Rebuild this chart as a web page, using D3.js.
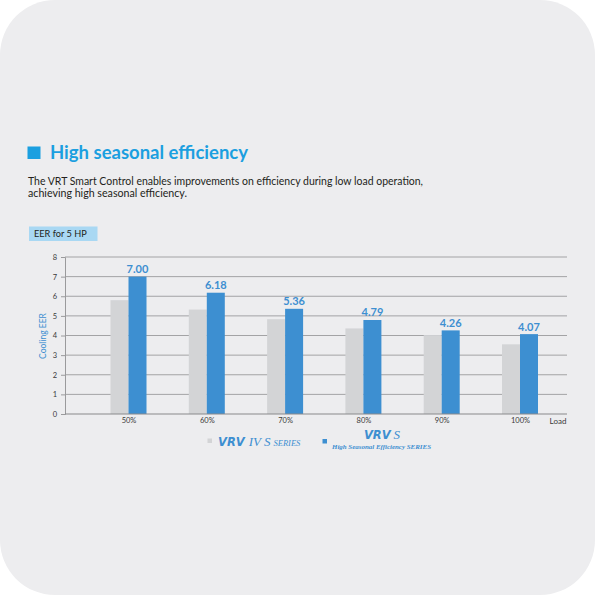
<!DOCTYPE html>
<html>
<head>
<meta charset="utf-8">
<script src="https://cdn.jsdelivr.net/npm/d3@7/dist/d3.min.js"></script>
<style>
  html, body { margin: 0; padding: 0; background: #ffffff; }
  svg { display: block; }
</style>
</head>
<body>
<svg id="chart" width="595" height="595"></svg>
<script>
// ---- data ----
const categories = ["50%", "60%", "70%", "80%", "90%", "100%"];
const seriesOld = [5.80, 5.32, 4.83, 4.36, 4.02, 3.55];   // VRV IV S SERIES
const seriesNew = [7.00, 6.18, 5.36, 4.79, 4.26, 4.07];   // VRV S High Seasonal Efficiency SERIES
const valueLabels = ["7.00", "6.18", "5.36", "4.79", "4.26", "4.07"];
const yTicks = [0, 1, 2, 3, 4, 5, 6, 7, 8];

const titleText = "High seasonal efficiency";
const subLines = [
  "The VRT Smart Control enables improvements on efficiency during low load operation,",
  "achieving high seasonal efficiency."
];
const boxLabel = "EER for 5 HP";
const yTitle = "Cooling EER";
const xTitle = "Load";

// ---- styles ----
const BG = "#ededef";
const GRAY = "#d3d4d6";
const BLUE = "#3d8fd1";
const TITLE_BLUE = "#1b9fe0";
const BOX_BLUE = "#a9d8f3";
const FONT = "Lato, 'Open Sans', sans-serif";

const svg = d3.select("#chart");

svg.append("rect")
  .attr("x", 0).attr("y", 0).attr("width", 595).attr("height", 595)
  .attr("rx", 55).attr("ry", 55).attr("fill", BG);

// title
svg.append("rect").attr("x", 27.5).attr("y", 146.5).attr("width", 13).attr("height", 12.5).attr("fill", TITLE_BLUE);
svg.append("text").attr("x", 50).attr("y", 159.3)
  .attr("font-family", FONT).attr("font-weight", 700).attr("font-size", 19.5)
  .attr("fill", TITLE_BLUE)
  .attr("textLength", 198).attr("lengthAdjust", "spacingAndGlyphs")
  .text(titleText);

// subtitle
const subLengths = [395, 159];
subLines.forEach((t, i) => {
  svg.append("text").attr("x", 28).attr("y", 185 + i * 12)
    .attr("font-family", FONT).attr("font-size", 10.5).attr("fill", "#231f20")
    .attr("textLength", subLengths[i]).attr("lengthAdjust", "spacingAndGlyphs")
    .text(t);
});

// EER box
svg.append("rect").attr("x", 29).attr("y", 226.5).attr("width", 68.5).attr("height", 14.5).attr("fill", BOX_BLUE);
svg.append("text").attr("x", 34).attr("y", 237.3)
  .attr("font-family", FONT).attr("font-size", 9.2).attr("fill", "#231f20")
  .text(boxLabel);

// ---- scales ----
const mLeft = 65, mRight = 567, mTop = 257, mBottom = 414;
const y = d3.scaleLinear().domain([0, 8]).range([mBottom, mTop]);
const x = d3.scalePoint().domain(categories).range([128.5, 520]);
const barW = 18;

// gridlines
const g = svg.append("g");
g.selectAll("line.grid").data(yTicks.filter(d => d > 0)).enter().append("line")
  .attr("x1", mLeft).attr("x2", mRight)
  .attr("y1", d => y(d)).attr("y2", d => y(d))
  .attr("stroke", "#a3a3a5").attr("stroke-width", 1);

// y axis
const yAxis = svg.append("g").attr("transform", `translate(${mLeft},0)`)
  .call(d3.axisLeft(y).tickValues(yTicks).tickSize(4).tickPadding(4).tickFormat(d3.format("d")));
yAxis.select(".domain").attr("stroke", "#9a9a9c");
yAxis.selectAll(".tick line").attr("stroke", "#9a9a9c");
yAxis.selectAll(".tick text").attr("font-family", FONT).attr("font-size", 7.5).attr("fill", "#3a3a3a");

// bars
svg.selectAll("rect.old").data(seriesOld).enter().append("rect")
  .attr("x", (d, i) => x(categories[i]) - barW)
  .attr("y", d => y(d)).attr("width", barW).attr("height", d => y(0) - y(d))
  .attr("fill", GRAY);
svg.selectAll("rect.new").data(seriesNew).enter().append("rect")
  .attr("x", (d, i) => x(categories[i]))
  .attr("y", d => y(d)).attr("width", barW).attr("height", d => y(0) - y(d))
  .attr("fill", BLUE);

// value labels
svg.selectAll("text.val").data(seriesNew).enter().append("text")
  .attr("x", (d, i) => x(categories[i]) + barW / 2)
  .attr("y", d => y(d) - 3.5)
  .attr("text-anchor", "middle")
  .attr("font-family", FONT).attr("font-weight", 700).attr("font-size", 11)
  .attr("fill", BLUE)
  .text((d, i) => valueLabels[i]);

// x axis
const xAxis = svg.append("g").attr("transform", `translate(0,${mBottom})`)
  .call(d3.axisBottom(x).tickSize(0).tickPadding(4));
xAxis.select(".domain").attr("d", `M${mLeft},0H${mRight}`).attr("stroke", "#8a8a8c").attr("stroke-width", 1.2);
xAxis.selectAll(".tick text").attr("font-family", FONT).attr("font-size", 7.5).attr("fill", "#3a3a3a");

svg.append("text").attr("x", 558).attr("y", 423.5).attr("text-anchor", "middle")
  .attr("font-family", FONT).attr("font-size", 8).attr("fill", "#3a3a3a").text(xTitle);

// y title
svg.append("text").attr("transform", "translate(45.5,336) rotate(-90)")
  .attr("text-anchor", "middle")
  .attr("font-family", FONT).attr("font-size", 8.5).attr("fill", BLUE)
  .text(yTitle);

// legend
const lg = svg.append("g");
lg.append("rect").attr("x", 207.5).attr("y", 438.5).attr("width", 4.5).attr("height", 4.5).attr("fill", GRAY);
const t1 = lg.append("text").attr("x", 218).attr("y", 445.5).attr("fill", BLUE);
t1.append("tspan").attr("font-family", "'DejaVu Sans', sans-serif").attr("font-weight", 700).attr("font-style", "italic").attr("font-size", 11.5).text("VRV");
t1.append("tspan").attr("font-family", "'Liberation Serif', serif").attr("font-style", "italic").attr("font-size", 13).attr("dx", 4).text("IV S");
t1.append("tspan").attr("font-family", "'Liberation Serif', serif").attr("font-style", "italic").attr("font-size", 8.5).attr("dx", 3).text("SERIES");

lg.append("rect").attr("x", 322.5).attr("y", 439).attr("width", 4.5).attr("height", 4.5).attr("fill", BLUE);
const t2 = lg.append("text").attr("x", 382).attr("y", 438.5).attr("fill", BLUE).attr("text-anchor", "middle");
t2.append("tspan").attr("font-family", "'DejaVu Sans', sans-serif").attr("font-weight", 700).attr("font-style", "italic").attr("font-size", 11.5).text("VRV");
t2.append("tspan").attr("font-family", "'Liberation Serif', serif").attr("font-style", "italic").attr("font-size", 13).attr("dx", 3).text("S");
lg.append("text").attr("x", 381.5).attr("y", 449).attr("text-anchor", "middle")
  .attr("font-family", "'Liberation Serif', serif").attr("font-style", "italic").attr("font-weight", 700).attr("font-size", 7)
  .attr("fill", BLUE).attr("textLength", 99).attr("lengthAdjust", "spacingAndGlyphs")
  .text("High Seasonal Efficiency SERIES");
</script>
</body>
</html>
